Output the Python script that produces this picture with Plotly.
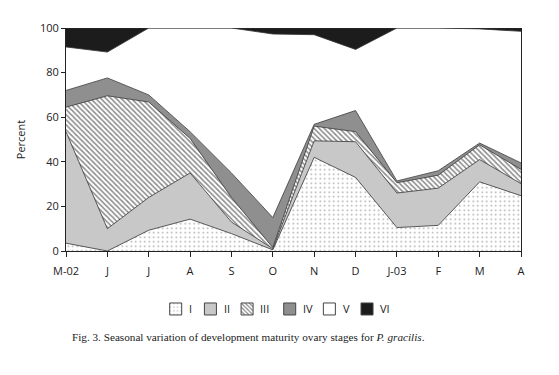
import plotly.graph_objects as go

months = ["M-02", "J", "J ", "A", "S", "O", "N", "D", "J-03", "F", "M", "A "]
month_labels = ["M-02", "J", "J", "A", "S", "O", "N", "D", "J-03", "F", "M", "A"]

stage_I = [3.5, 0.0, 9.3, 14.3, 7.8, 0.5, 42.0, 33.0, 10.5, 11.5, 31.0, 24.8]
stage_II = [50.0, 10.0, 14.7, 20.7, 5.2, 0.5, 7.4, 16.0, 15.5, 16.7, 10.0, 5.4]
stage_III = [11.0, 59.6, 42.8, 15.5, 11.0, 0.5, 6.6, 4.5, 4.6, 5.8, 6.6, 6.4]
stage_IV = [7.5, 8.0, 3.2, 3.0, 11.0, 13.5, 0.8, 9.5, 0.8, 2.0, 0.8, 2.9]
stage_V = [19.5, 11.6, 30.0, 46.5, 65.0, 82.3, 40.2, 27.4, 68.6, 64.0, 51.2, 59.0]
stage_VI = [8.5, 10.8, 0.0, 0.0, 0.0, 2.7, 3.0, 9.6, 0.0, 0.0, 0.4, 1.5]

stage_names = ["I", "II", "III", "IV", "V", "VI"]
stage_values = [stage_I, stage_II, stage_III, stage_IV, stage_V, stage_VI]

styles = [
    dict(color="white", pattern=dict(shape=".", fgcolor="#555555", bgcolor="white", size=4.5, solidity=0.12)),
    dict(color="#c8c8c8", pattern=None),
    dict(color="white", pattern=dict(shape="\\", fgcolor="#1a1a1a", bgcolor="white", size=3.6, solidity=0.45)),
    dict(color="#8f8f8f", pattern=None),
    dict(color="white", pattern=None),
    dict(color="#1c1c1c", pattern=None),
]

# legend swatch centres and label starts (px)
legend_sym_px = [175, 210, 247, 290, 330, 368]
legend_txt_px = [184, 219, 256, 299, 339, 377]
PLOT_L, PLOT_W = 62, 459
LEG_Y = -0.26

fig = go.Figure()
for name, vals, st in zip(stage_names, stage_values, styles):
    kw = dict(
        x=months, y=vals, name=name, stackgroup="one", mode="lines",
        line=dict(color="#333333", width=0.8),
        fillcolor=st["color"], showlegend=False, legendgroup=name,
        hoverinfo="skip",
    )
    if st["pattern"] is not None:
        kw["fillpattern"] = st["pattern"]
    fig.add_trace(go.Scatter(**kw))

legend_layout = {}
annotations = []
for i, (name, st) in enumerate(zip(stage_names, styles)):
    lname = "legend" if i == 0 else f"legend{i + 1}"
    marker = dict(color=st["color"], line=dict(color="#444444", width=1))
    if st["pattern"] is not None:
        marker["pattern"] = st["pattern"]
    fig.add_trace(go.Bar(x=[None], y=[None], name=" ", marker=marker,
                         legendgroup=name, showlegend=True, legend=lname))
    legend_layout[lname] = dict(
        orientation="h", x=(legend_sym_px[i] - 22.5 - PLOT_L) / PLOT_W, xanchor="left",
        y=LEG_Y, yanchor="middle", font=dict(size=11), itemwidth=30,
        bgcolor="rgba(0,0,0,0)", borderwidth=0,
    )
    annotations.append(dict(
        text=name, xref="paper", yref="paper",
        x=(legend_txt_px[i] - PLOT_L) / PLOT_W, y=LEG_Y,
        xanchor="left", yanchor="middle", showarrow=False,
        font=dict(size=11, color="#222222"),
    ))

annotations.append(dict(
    text="Fig. 3. Seasonal variation of development maturity ovary stages for <i>P. gracilis</i>.",
    xref="paper", yref="paper", x=0.009, y=-0.385, xanchor="left", yanchor="middle",
    showarrow=False, font=dict(family="Liberation Serif, Times New Roman, serif", size=11.2, color="#222222"),
))

fig.update_layout(
    width=551, height=367,
    margin=dict(l=54, r=38, t=17, b=124),
    paper_bgcolor="white", plot_bgcolor="white",
    font=dict(family="Open Sans, Arial, sans-serif", size=11, color="#222222"),
    showlegend=True,
    xaxis=dict(
        type="category", categoryorder="array", categoryarray=months,
        tickvals=months, ticktext=month_labels,
        range=[0, len(months) - 1], showgrid=False, zeroline=False,
        showline=True, linecolor="#222222", linewidth=1,
        ticks="outside", ticklen=5, tickcolor="#222222",
        ticklabelstandoff=5,
    ),
    yaxis=dict(
        range=[0, 100], tickvals=[0, 20, 40, 60, 80, 100],
        showgrid=False, zeroline=False,
        showline=True, linecolor="#222222", linewidth=1, mirror=True,
        ticks="outside", ticklen=4, tickcolor="#222222",
        title=dict(text="Percent", font=dict(size=11), standoff=12),
    ),
    annotations=annotations,
    **legend_layout,
)

fig.write_html("out.html")
